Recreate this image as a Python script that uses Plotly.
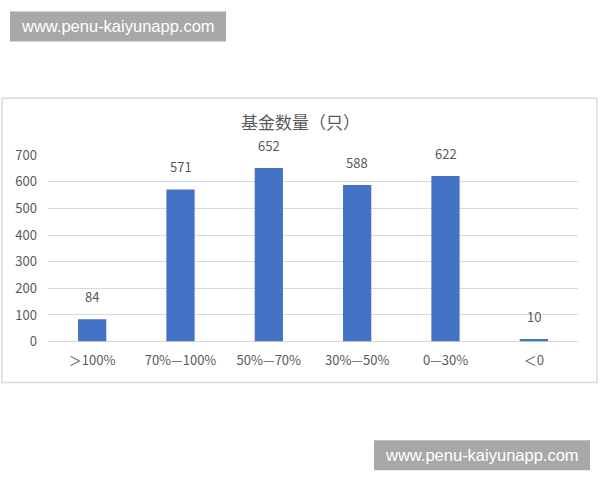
import plotly.graph_objects as go

# Chart data
categories = ['＞100%', '70%—100%', '50%—70%', '30%—50%', '0—30%', '＜0']
fund_counts = [84, 571, 652, 588, 622, 10]
y_ticks = [0, 100, 200, 300, 400, 500, 600, 700]

W, H = 600, 480
font_family = 'Noto Sans CJK SC, Noto Sans, sans-serif'
text_grey = '#595959'

fig = go.Figure()

fig.add_trace(go.Bar(
    x=categories, y=fund_counts,
    marker=dict(color='#4472C4', line=dict(width=0)),
    width=0.32,
    hoverinfo='x+y',
))

# value labels above the bars
for cat, val in zip(categories, fund_counts):
    fig.add_annotation(x=cat, y=val, text=str(val), showarrow=False,
                       yanchor='bottom', yshift=11,
                       font=dict(size=13, color=text_grey, family=font_family))


def px_x(p):
    return p / W


def px_y(p):
    # screenshot is squeezed a little vertically, compensate
    return 1 - ((p - 8.5) / 0.963) / H


# chart frame
fig.add_shape(type='rect', xref='paper', yref='paper',
              x0=px_x(2), x1=px_x(597), y0=px_y(382), y1=px_y(97),
              line=dict(color='#d9d9d9', width=1.5), fillcolor='rgba(0,0,0,0)',
              layer='below')

# watermark boxes
for x0, y0 in [(10, 10), (374, 440)]:
    fig.add_shape(type='rect', xref='paper', yref='paper',
                  x0=px_x(x0), x1=px_x(x0 + 216), y0=px_y(y0 + 30), y1=px_y(y0),
                  line=dict(width=0), fillcolor='#a8a8a8', layer='above')
    fig.add_annotation(x=px_x(x0 + 108), y=px_y(y0 + 15), xref='paper', yref='paper',
                       text='www.penu-kaiyunapp.com', showarrow=False,
                       xanchor='center', yanchor='middle',
                       font=dict(size=16.5, color='white', family='Liberation Sans, Arial, sans-serif'))

# title
fig.add_annotation(x=px_x(300), y=px_y(120), xref='paper', yref='paper',
                   text='基金数量（只）', showarrow=False,
                   xanchor='center', yanchor='middle',
                   font=dict(size=17, color=text_grey, family=font_family))

fig.update_layout(
    width=W, height=H,
    margin=dict(l=0, r=0, t=0, b=0),
    paper_bgcolor='white', plot_bgcolor='white',
    showlegend=False,
    xaxis=dict(domain=[px_x(48), px_x(578)], showgrid=False, zeroline=False,
               showline=False, ticks='', ticklabelstandoff=9,
               tickfont=dict(size=13, color=text_grey, family=font_family)),
    yaxis=dict(domain=[px_y(341), px_y(154)], range=[0, 700],
               tickvals=y_ticks, showgrid=True, gridcolor='#d9d9d9', gridwidth=1,
               zeroline=True, zerolinecolor='#d9d9d9', zerolinewidth=1,
               showline=False, ticks='', ticklabelstandoff=10,
               tickfont=dict(size=13, color=text_grey, family=font_family)),
)

# pin the figure to the top-left corner of the page
pin_js = ("document.body.style.margin='0';"
          "var gd=document.getElementById('{plot_id}');"
          "gd.style.position='fixed';gd.style.left='0px';gd.style.top='0px';")

fig.write_html('out.html', post_script=pin_js, config={'displayModeBar': False})
